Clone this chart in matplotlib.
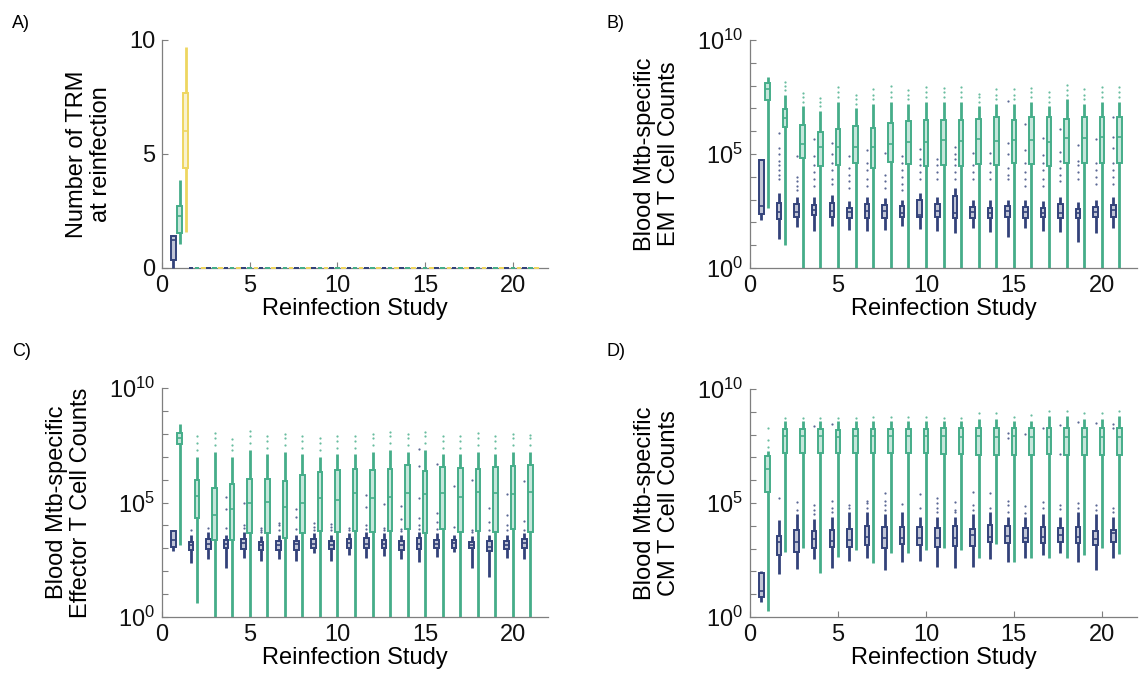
import numpy as np
import matplotlib
matplotlib.use("Agg")
import matplotlib.pyplot as plt
from matplotlib.ticker import FixedLocator, FuncFormatter

plt.rcParams['font.family'] = ['Liberation Sans', 'DejaVu Sans']
plt.rcParams['mathtext.fontset'] = 'custom'
plt.rcParams['mathtext.rm'] = 'Liberation Sans'
plt.rcParams['mathtext.it'] = 'Liberation Sans:italic'
plt.rcParams['mathtext.default'] = 'regular'

studies = list(range(1, 22))
xticks = [0, 5, 10, 15, 20]
xlabel = "Reinfection Study"
panel_letters = ["A)", "B)", "C)", "D)"]
ylabels = ["Number of TRM\nat reinfection",
           "Blood Mtb-specific\nEM T Cell Counts",
           "Blood Mtb-specific\nEffector T Cell Counts",
           "Blood Mtb-specific\nCM T Cell Counts"]

# ---- Panel A (linear): [whislo, q1, med, q3, whishi] per study ----
A_navy = [[0, 0.36, 1.24, 1.39, 1.42]] + [[0, 0, 0, 0, 0]] * 20
A_green = [[1.07, 1.53, 2.26, 2.74, 3.84]] + [[0, 0, 0, 0, 0]] * 20
A_yellow = [[1.6, 4.38, 6.01, 7.69, 9.71]] + [[0, 0, 0, 0, 0]] * 20

# ---- Panels B-D (log10 of counts): [whislo, q1, med, q3, whishi] ----
B_navy = [[2.1, 2.35, 2.73, 4.74, 4.8], [1.26, 2.15, 2.44, 2.87, 3.3], [1.78, 2.25, 2.47, 2.79, 3.1],
          [1.64, 2.32, 2.54, 2.76, 3.1], [1.86, 2.25, 2.5, 2.84, 3.2], [1.67, 2.21, 2.44, 2.65, 2.95],
          [1.64, 2.21, 2.5, 2.79, 3.1], [1.67, 2.21, 2.5, 2.76, 3.05], [1.86, 2.25, 2.4, 2.73, 3.0],
          [1.71, 2.25, 2.32, 2.98, 3.3], [1.64, 2.25, 2.5, 2.81, 3.1], [1.55, 2.21, 2.43, 3.17, 3.5],
          [1.74, 2.18, 2.47, 2.66, 3.0], [1.56, 2.21, 2.43, 2.62, 3.0], [1.37, 2.25, 2.5, 2.72, 2.98],
          [1.74, 2.21, 2.47, 2.69, 3.0], [1.62, 2.25, 2.43, 2.62, 2.95], [1.59, 2.21, 2.4, 2.81, 3.1],
          [1.16, 2.18, 2.4, 2.57, 2.9], [1.55, 2.25, 2.47, 2.69, 3.0], [1.74, 2.25, 2.54, 2.76, 3.1]]
B_navy_out = [[], [3.9, 4.1, 4.3, 4.5, 4.7, 5.0, 5.25, 5.9], [3.4, 3.6, 3.8, 4.0, 4.9],
              [3.6, 3.9, 4.2, 4.5, 4.9, 5.66], [3.7, 3.9, 4.3, 4.6, 5.0, 5.47], [3.5, 3.8, 4.1, 4.4, 4.9],
              [3.6, 3.9, 4.3, 4.6, 5.18], [3.5, 3.8, 4.1, 5.03], [3.4, 3.7, 4.0, 4.3, 4.6, 4.9],
              [3.9, 4.2, 4.5, 4.8, 5.2], [3.9, 4.2, 4.5, 4.8], [3.9, 4.2, 4.5, 4.8, 5.0, 5.32],
              [3.9, 4.2, 4.5, 5.06], [3.9, 4.2, 4.6, 5.06], [3.9, 4.1, 4.4, 5.0, 5.5, 7.34],
              [3.6, 3.9, 4.2, 4.6, 5.18, 6.3], [3.6, 3.9, 4.3, 4.6, 4.96, 5.69],
              [3.8, 4.1, 4.4, 4.7, 5.1, 6.08], [3.9, 4.2, 4.5, 4.7, 5.39], [3.7, 4.0, 4.3, 4.6, 5.64],
              [3.7, 4.0, 4.3, 4.6, 5.25, 5.76, 6.64]]
B_green = [[2.62, 7.37, 7.85, 8.13, 8.39], [1.0, 6.2, 6.6, 6.97, 7.6], [-3, 4.81, 5.45, 6.27, 7.1],
           [-3, 4.47, 5.29, 5.98, 6.9], [-3, 4.52, 5.32, 6.11, 7.3], [-3, 4.59, 5.32, 6.23, 7.0],
           [-3, 4.37, 5.29, 6.13, 7.2], [-3, 4.66, 5.45, 6.35, 7.3], [-3, 4.56, 5.54, 6.45, 7.2],
           [-3, 4.47, 5.53, 6.49, 7.3], [-3, 4.53, 5.62, 6.49, 7.3], [-3, 4.47, 5.57, 6.49, 7.3],
           [-3, 4.56, 5.64, 6.54, 7.1], [-3, 4.52, 5.57, 6.64, 7.2], [-3, 4.59, 5.61, 6.49, 7.2],
           [-3, 4.56, 5.61, 6.61, 7.3], [-3, 4.47, 5.54, 6.61, 7.1], [-3, 4.59, 5.69, 6.54, 7.4],
           [-3, 4.59, 5.72, 6.61, 7.2], [-3, 4.59, 5.73, 6.64, 7.3], [-3, 4.59, 5.73, 6.64, 7.3]]
B_green_out = [[], [7.8, 8.0, 8.17], [7.3, 7.5, 7.69], [7.1, 7.3, 7.44], [7.5, 7.7, 7.92],
               [7.2, 7.4, 7.59], [7.4, 7.6, 7.84], [7.5, 7.7, 7.98], [7.4, 7.6, 7.81],
               [7.5, 7.7, 7.95], [7.5, 7.7, 7.9], [7.5, 7.7, 7.95], [7.3, 7.5, 7.63],
               [7.4, 7.6, 7.84], [7.4, 7.6, 7.84], [7.5, 7.7, 7.88], [7.3, 7.5, 7.73],
               [7.6, 7.8, 8.03], [7.4, 7.6, 7.84], [7.5, 7.7, 7.95], [7.5, 7.7, 7.95]]

C_navy = [[2.88, 3.07, 3.36, 3.76, 3.78], [2.37, 2.93, 3.14, 3.29, 3.58], [2.52, 2.97, 3.19, 3.41, 3.73],
          [2.13, 3.0, 3.19, 3.36, 3.6], [2.56, 2.97, 3.22, 3.41, 3.7], [2.45, 2.93, 3.14, 3.29, 3.55],
          [2.52, 2.93, 3.14, 3.33, 3.6], [2.46, 2.93, 3.19, 3.33, 3.6], [2.78, 3.0, 3.19, 3.41, 3.65],
          [2.46, 2.95, 3.14, 3.33, 3.6], [2.71, 3.03, 3.22, 3.41, 3.65], [2.56, 3.0, 3.19, 3.44, 3.7],
          [2.68, 3.0, 3.19, 3.36, 3.65], [2.52, 2.93, 3.14, 3.33, 3.6], [2.42, 2.95, 3.19, 3.44, 3.7],
          [2.64, 3.0, 3.19, 3.36, 3.65], [2.85, 3.03, 3.22, 3.36, 3.6], [2.15, 3.0, 3.14, 3.29, 3.55],
          [1.76, 2.9, 3.07, 3.32, 3.6], [2.59, 2.95, 3.14, 3.33, 3.6], [2.53, 3.0, 3.22, 3.41, 3.65]]
C_navy_out = [[], [3.8], [3.9], [3.9, 4.72, 5.25], [3.9, 4.0, 4.96], [3.7, 3.8, 3.9],
              [3.8, 4.0, 4.1], [3.83, 4.38, 4.72], [3.8, 3.95, 4.1], [3.8, 3.95, 4.05], [3.8, 3.9],
              [3.85, 4.0, 4.8, 5.33], [3.8, 3.9, 4.93], [3.75, 3.85, 4.27, 4.85],
              [3.85, 4.0, 4.31, 5.18, 6.61, 7.34], [3.83, 4.16, 4.56, 6.68], [3.94, 5.72],
              [3.7, 3.8, 5.98], [3.8, 4.16, 4.77], [3.8, 4.0, 4.45, 5.36], [3.8, 4.2, 5.95]]
C_green = [[3.14, 7.54, 7.83, 8.02, 8.41], [0.6, 4.31, 5.28, 5.98, 7.0], [-3, 3.36, 4.45, 5.62, 7.2],
           [-3, 3.36, 4.72, 5.81, 7.0], [-3, 3.65, 4.96, 6.03, 7.3], [-3, 3.65, 5.04, 6.01, 7.1],
           [-3, 3.43, 4.82, 5.95, 7.2], [-3, 3.65, 5.0, 6.2, 7.1], [-3, 3.77, 5.18, 6.32, 7.0],
           [-3, 3.73, 5.11, 6.42, 7.1], [-3, 3.75, 5.43, 6.47, 7.1], [-3, 3.73, 5.18, 6.42, 7.2],
           [-3, 3.77, 5.25, 6.46, 7.3], [-3, 3.84, 5.43, 6.64, 7.2], [-3, 3.65, 5.37, 6.38, 7.3],
           [-3, 3.84, 5.4, 6.56, 7.1], [-3, 3.73, 5.25, 6.49, 7.1], [-3, 3.77, 5.47, 6.45, 7.2],
           [-3, 3.73, 5.4, 6.56, 7.1], [-3, 3.84, 5.37, 6.61, 7.2], [-3, 3.73, 5.47, 6.64, 7.2]]
C_green_out = [[], [7.3, 7.6, 7.92], [7.5, 7.8, 8.05], [7.3, 7.5, 7.77], [7.6, 7.9, 8.14],
               [7.4, 7.7, 7.92], [7.5, 7.8, 7.99], [7.4, 7.7, 7.92], [7.3, 7.6, 7.83],
               [7.4, 7.7, 7.9], [7.4, 7.7, 7.91], [7.5, 7.8, 7.98], [7.6, 7.9, 8.09],
               [7.5, 7.8, 7.98], [7.6, 7.9, 8.09], [7.4, 7.7, 7.92], [7.4, 7.7, 7.92],
               [7.5, 7.8, 8.02], [7.4, 7.7, 7.92], [7.5, 7.8, 7.98], [7.5, 7.8, 7.95]]

D_navy = [[0.67, 0.86, 1.15, 1.92, 2.0], [1.89, 2.72, 3.27, 3.57, 4.25], [2.09, 2.87, 3.3, 3.82, 4.5],
          [2.54, 3.04, 3.42, 3.79, 4.3], [2.16, 3.06, 3.35, 3.82, 4.4], [2.47, 3.08, 3.38, 3.85, 4.6],
          [2.57, 3.16, 3.52, 4.01, 4.6], [2.06, 3.04, 3.48, 3.96, 4.5], [2.43, 3.19, 3.45, 3.96, 4.6],
          [2.47, 3.16, 3.45, 3.96, 4.4], [2.21, 3.08, 3.45, 3.89, 4.4], [2.16, 3.11, 3.48, 4.01, 4.4],
          [2.18, 3.13, 3.6, 3.86, 4.5], [2.53, 3.3, 3.52, 4.04, 4.6], [2.43, 3.23, 3.57, 4.01, 4.4],
          [2.57, 3.27, 3.45, 3.89, 4.4], [2.72, 3.23, 3.52, 3.96, 4.5], [2.79, 3.3, 3.6, 3.89, 4.4],
          [2.43, 3.23, 3.52, 3.93, 4.6], [2.06, 3.16, 3.41, 3.79, 4.5], [2.57, 3.3, 3.67, 3.82, 4.4]]
D_navy_out = [[], [5.2], [4.69, 5.03], [4.5, 4.7, 4.9, 8.39], [4.6, 4.8, 5.1, 8.45], [4.8, 4.9],
              [4.8, 5.0, 5.1], [4.7, 4.9, 5.1, 5.45], [4.96], [4.8, 5.38], [4.6, 4.8, 5.0, 5.2],
              [4.6, 4.69, 5.06], [4.7, 4.9, 5.5], [4.8, 5.45], [4.6, 4.9, 5.09, 7.87, 8.06],
              [4.58, 4.87, 8.01], [4.77, 5.06, 8.27], [4.74, 4.91, 7.13, 8.42], [4.8, 5.0, 8.54],
              [4.7, 4.9, 8.49], [4.6, 4.8, 8.3, 8.45]]
D_green = [[0.26, 5.47, 6.49, 7.08, 7.3], [2.87, 7.18, 7.94, 8.23, 8.6], [3.01, 7.18, 7.94, 8.23, 8.6],
           [1.92, 7.18, 7.94, 8.23, 8.6], [2.65, 7.18, 7.91, 8.2, 8.6], [2.94, 7.18, 7.94, 8.23, 8.6],
           [2.35, 7.18, 7.96, 8.23, 8.6], [2.79, 7.18, 7.96, 8.23, 8.6], [2.79, 7.18, 7.96, 8.23, 8.6],
           [2.94, 7.18, 7.96, 8.23, 8.6], [3.01, 7.16, 7.93, 8.27, 8.6], [2.94, 7.13, 7.89, 8.27, 8.6],
           [2.57, 7.09, 7.93, 8.27, 8.7], [3.19, 7.09, 7.89, 8.27, 8.7], [2.43, 7.09, 7.93, 8.27, 8.6],
           [2.57, 7.12, 7.89, 8.27, 8.6], [2.6, 7.16, 7.89, 8.3, 8.8], [2.57, 7.09, 7.89, 8.3, 8.8],
           [2.72, 7.09, 7.89, 8.27, 8.7], [3.04, 7.09, 7.89, 8.27, 8.7], [2.75, 7.09, 7.89, 8.27, 8.8]]
D_green_out = [[7.47, 7.76, 8.3], [8.71], [8.71], [8.71], [8.71], [8.71], [8.79], [8.79], [8.79],
               [8.79], [8.71], [8.71], [8.93], [8.93], [8.79], [8.86], [9.04], [9.04], [8.93],
               [8.93], [9.04]]

NAVY = '#33427a'
GREEN = '#45ad89'
YELLOW = '#eed660'


def make_stats(rows, outs=None, log=False):
    stats = []
    for i, r in enumerate(rows):
        vals = [10.0 ** v for v in r] if log else list(r)
        fl = outs[i] if outs is not None else []
        fl = [10.0 ** v for v in fl] if log else list(fl)
        stats.append(dict(whislo=vals[0], q1=vals[1], med=vals[2], q3=vals[3],
                          whishi=vals[4], fliers=fl))
    return stats


def draw(ax, stats, offset, color, width=0.26, clip=True):
    rgb = matplotlib.colors.to_rgb(color)
    pos = [s + offset for s in studies]
    res = ax.bxp(stats, positions=pos, widths=width, patch_artist=True, showcaps=False,
                 manage_ticks=False,
                 boxprops=dict(facecolor=(*rgb, 0.3), edgecolor=color, linewidth=1.4),
                 whiskerprops=dict(color=color, linewidth=2.0, solid_capstyle='butt'),
                 medianprops=dict(color=color, linewidth=1.2),
                 flierprops=dict(marker='o', markersize=1.6, markerfacecolor=color,
                                 markeredgecolor='none', alpha=0.8))
    if not clip:
        for key in ('boxes', 'medians', 'whiskers'):
            for art in res[key]:
                art.set_clip_on(False)
                art.set_zorder(3)


fig = plt.figure(figsize=(11.44, 6.89), dpi=100)
W, H = 1144.0, 689.0
rects = [(162, 40, 548, 268), (750, 40, 1137, 268), (162, 388, 548, 617), (750, 389, 1137, 617)]
axes = []
for (l, t, r, b) in rects:
    axes.append(fig.add_axes([l / W, 1 - b / H, (r - l) / W, (b - t) / H]))

GRAY = '#7f7f7f'
for i, ax in enumerate(axes):
    for sp in ['top', 'right']:
        ax.spines[sp].set_visible(False)
    for sp in ['left', 'bottom']:
        ax.spines[sp].set_color(GRAY)
        ax.spines[sp].set_linewidth(0.9)
    ax.tick_params(direction='in', length=4, width=0.8, color=GRAY, labelsize=17,
                   labelcolor='#111111', pad=5)
    ax.set_xlim(0, 22)
    ax.set_xticks(xticks)
    ax.set_xlabel(xlabel, fontsize=17, labelpad=1)
    ax.set_ylabel(ylabels[i], fontsize=17, labelpad=12, linespacing=1.1)

# Panel A
ax = axes[0]
draw(ax, make_stats(A_navy), -0.35, NAVY, clip=False)
draw(ax, make_stats(A_green), 0.0, GREEN, clip=False)
draw(ax, make_stats(A_yellow), 0.35, YELLOW, clip=False)
ax.set_ylim(0, 10)
ax.set_yticks([0, 5, 10])

# Log panels
for ax, nv, nvo, gr, gro in [(axes[1], B_navy, B_navy_out, B_green, B_green_out),
                             (axes[2], C_navy, C_navy_out, C_green, C_green_out),
                             (axes[3], D_navy, D_navy_out, D_green, D_green_out)]:
    ax.set_yscale('log')
    draw(ax, make_stats(nv, nvo, log=True), -0.35, NAVY)
    draw(ax, make_stats(gr, gro, log=True), 0.0, GREEN)
    ax.set_ylim(1, 1e10)
    ax.yaxis.set_major_locator(FixedLocator([10.0 ** k for k in range(0, 11)]))
    ax.yaxis.set_minor_locator(FixedLocator([]))
    ax.yaxis.set_major_formatter(FuncFormatter(
        lambda v, p: (r'$10^{%d}$' % int(round(np.log10(v)))) if int(round(np.log10(v))) % 5 == 0 else ''))

letter_pos = [(12, 28), (607, 28), (12, 356), (607, 356)]
for (x, y), s in zip(letter_pos, panel_letters):
    fig.text(x / W, 1 - y / H, s, fontsize=13, ha='left', va='baseline')

fig.savefig('out.png', dpi=100)
